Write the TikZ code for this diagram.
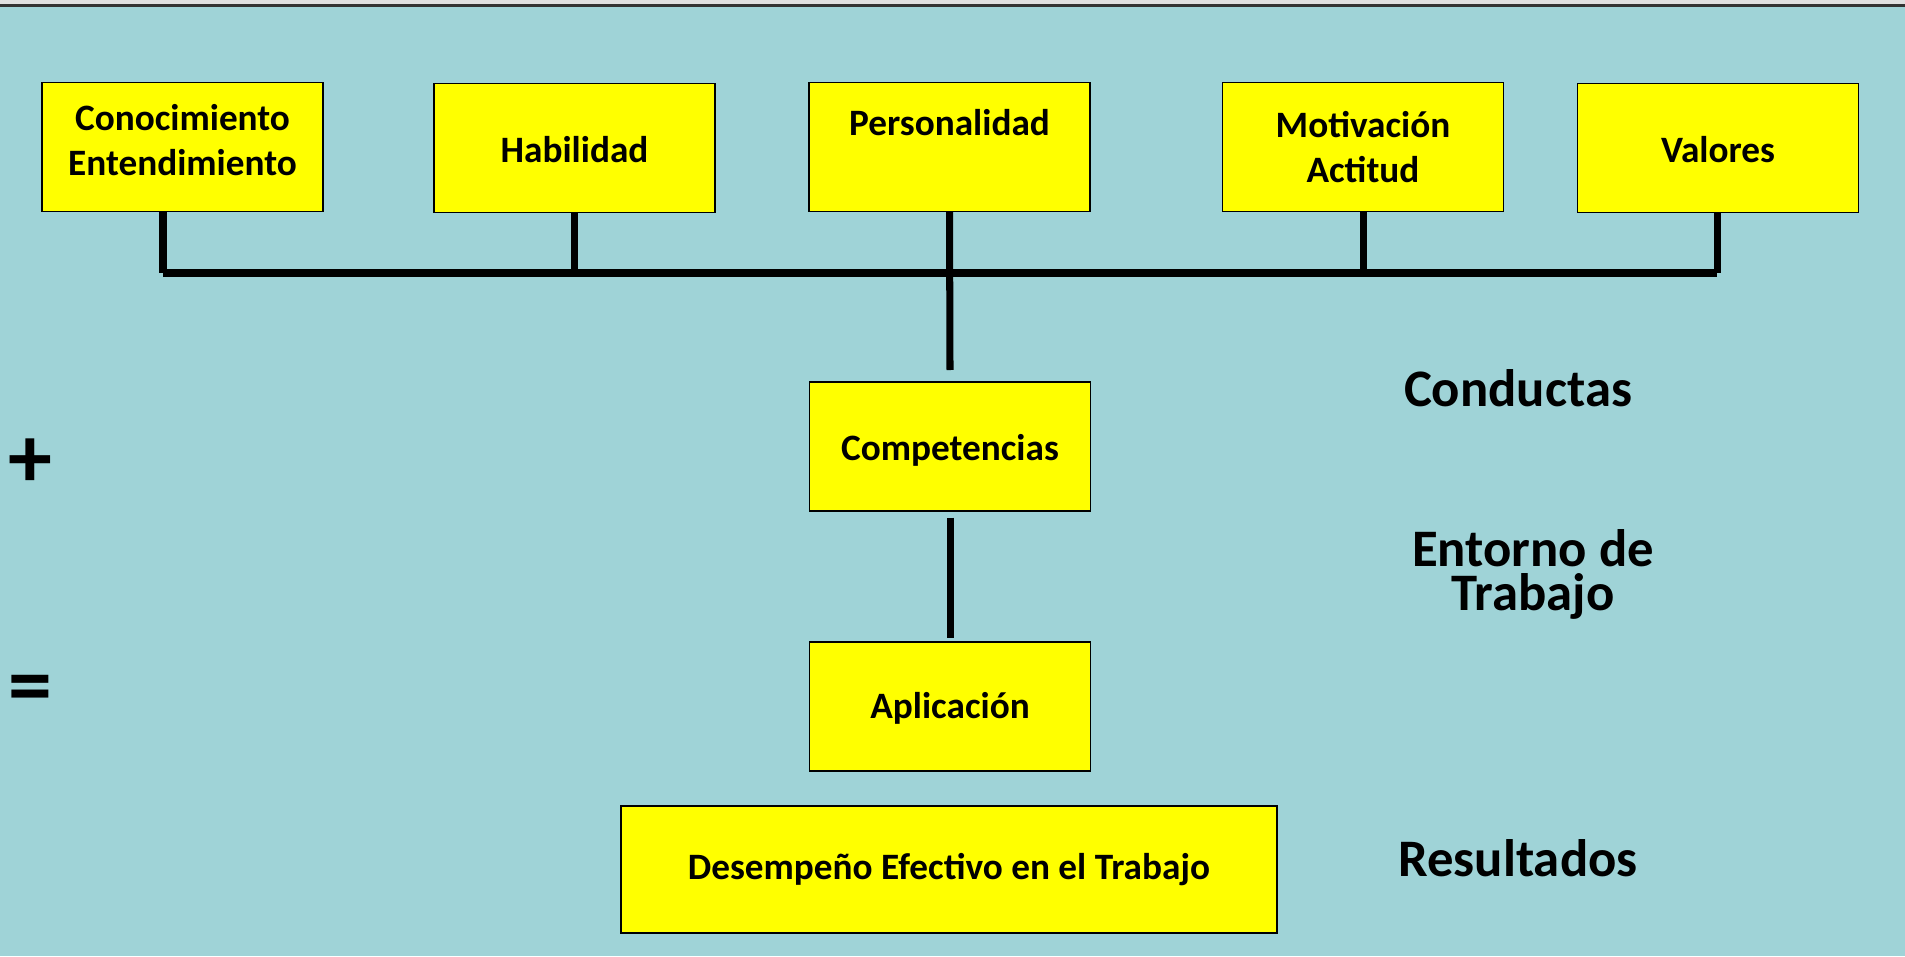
\documentclass[tikz,border=0pt]{standalone}
\usepackage{fontspec}
\setmainfont{Carlito}
\usepackage{tikz}
\usetikzlibrary{positioning}

\definecolor{fondo}{RGB}{159,211,215}
\definecolor{franja}{RGB}{224,224,224}
\definecolor{amarillo}{RGB}{255,255,0}

\tikzset{
  caja/.style={rectangle, draw=black, line width=0.8pt, fill=amarillo, minimum width=5.62cm, minimum height=2.58cm, align=center, font=\fontsize{21.2}{25.5}\selectfont\bfseries},
  rama/.style={line width=4pt},
  etiqueta/.style={rectangle, draw=none, align=center, font=\fontsize{30}{25}\selectfont\bfseries},
  signo/.style={rectangle, draw=none, font=\fontsize{50}{50}\selectfont\bfseries}
}

\begin{document}
\begin{tikzpicture}[x=0.02cm, y=-0.02cm]

    % Fondo
    \useasboundingbox (0,0) rectangle (1905,956);
    \fill[fondo] (0,0) rectangle (1905,956);
    \fill[franja] (0,0) rectangle (1905,5);
    \draw[black!80, line width=1.2pt] (0,5.5) -- (1905,5.5);

    % Fila superior
    \node (con)[caja, text depth=0.28cm] at (182.5,147) {Conocimiento\\Entendimiento};
    \node (hab)[caja, text height=0.6cm] at (574.5,148) {Habilidad};
    \node (per)[caja, text depth=1cm] at (949.5,147) {Personalidad};
    \node (mot)[caja] at (1363,147) {Motivaci\'on\\Actitud};
    \node (val)[caja, text height=0.6cm] at (1718,148) {Valores};

    % Centro
    \node (comp)[caja, text height=0.68cm] at (950,446.5) {Competencias};
    \node (apl)[caja, text height=0.6cm] at (950,706.5) {Aplicaci\'on};
    \node (des)[caja, minimum width=13.12cm, minimum height=2.54cm] at (949,869.5) {Desempe\~no Efectivo en el Trabajo};

    % Textos a la derecha
    \node (cond)[etiqueta] at (1518,388) {Conductas};
    \node (ent)[etiqueta] at (1533,574) {Entorno de\\Trabajo};
    \node (res)[etiqueta] at (1518,858) {Resultados};

    % Signos
    \node (mas)[signo] at (30,463) {+};
    \node (igual)[signo] at (30,695) {=};

    % Lineas de la fila superior
    \coordinate (bi) at (163,273);
    \coordinate (bd) at (1717,273);
    \coordinate (tallo) at (950,370);
    \draw[rama] (bi |- con.south) -- (bi);
    \draw[rama] (bi) -- (bd);
    \draw[rama] (hab.south) -- (hab.south |- bi);
    \draw[rama] (per.south) -- (tallo);
    \draw[rama] (mot.south) -- (mot.south |- bi);
    \draw[rama] (bd |- val.south) -- (bd);

    % Competencias a Aplicacion
    \draw[rama, shorten <=0.12cm, shorten >=0.06cm] (comp) -- (apl);

\end{tikzpicture}
\end{document}
